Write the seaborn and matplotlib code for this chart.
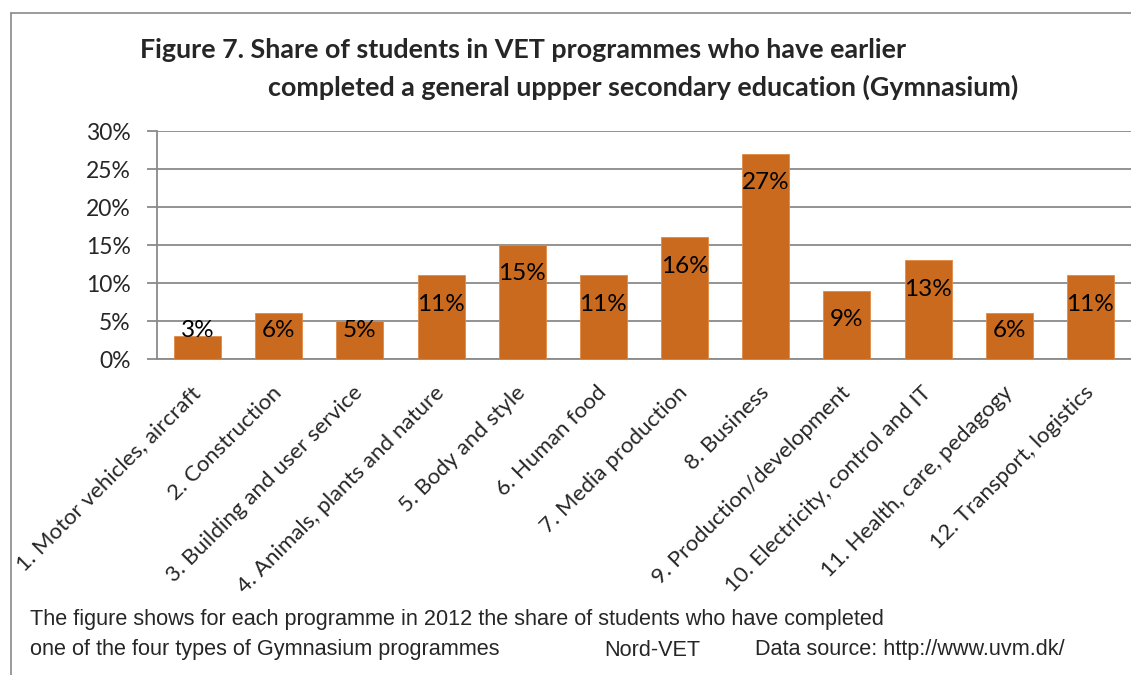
import numpy as np
import pandas as pd
import matplotlib
matplotlib.use("Agg")
import matplotlib.pyplot as plt
import seaborn as sns
from matplotlib.lines import Line2D

# Dados
programmes = [
    "1. Motor vehicles, aircraft",
    "2. Construction",
    "3. Building and user service",
    "4. Animals, plants and nature",
    "5. Body and style",
    "6. Human food",
    "7. Media production",
    "8. Business",
    "9. Production/development",
    "10. Electricity, control and IT",
    "11. Health, care, pedagogy",
    "12. Transport, logistics",
]
share = [3, 6, 5, 11, 15, 11, 16, 27, 9, 13, 6, 11]
y_ticks = [0, 5, 10, 15, 20, 25, 30]

title_1 = "Figure 7. Share of students in VET programmes who have earlier"
title_2 = "completed a general uppper secondary education (Gymnasium)"
note_1 = "The figure shows for each programme in 2012 the share of students who have completed"
note_2 = "one of the four types of Gymnasium programmes"

df = pd.DataFrame({"programme": programmes, "share": share})

sns.set_theme(style="white")
plt.rcParams["font.family"] = ["Lato", "DejaVu Sans"]

bar_col = "#C96A1E"
grid_col = "#8A8A8A"

fig = plt.figure(figsize=(11.31, 6.75), dpi=100)
ax = fig.add_axes([0.1388, 0.4681, 0.8612, 0.3378])

sns.barplot(data=df, x="programme", y="share", order=programmes, color=bar_col,
            width=0.58, saturation=1, edgecolor="#E08A45", linewidth=0.6, ax=ax, zorder=3)

ax.set_xlim(-0.5, len(programmes) - 0.5)
ax.set_ylim(0, 30)
ax.set_yticks(y_ticks)
ax.set_yticklabels([f"{t}%" for t in y_ticks], fontsize=16.5)
ax.yaxis.grid(True, color=grid_col, linewidth=1.3, zorder=0)
ax.set_xlabel("")
ax.set_ylabel("")

# rótulos do eixo x girados
ax.set_xticks(range(len(programmes)))
ax.set_xticklabels(programmes, rotation=45, ha="right", va="center",
                   rotation_mode="anchor", fontsize=16)
ax.tick_params(axis="x", which="major", length=0, pad=22)
ax.set_xticks(np.arange(-0.5, len(programmes), 1.0), minor=True)
ax.tick_params(axis="x", which="minor", length=7, width=1.3, color=grid_col, direction="out")
ax.tick_params(axis="y", length=7, width=1.3, color=grid_col, direction="out", pad=12, left=True)

for s in ["top", "right"]:
    ax.spines[s].set_visible(False)
for s in ["left", "bottom"]:
    ax.spines[s].set_color(grid_col)
    ax.spines[s].set_linewidth(1.3)

# rótulos de valor (estilo "inside end" do Excel)
for i, v in enumerate(share):
    ax.text(i, max(v - 3.8, 3.8), f"{v}%", ha="center", va="center",
            fontsize=17.5, color="black", zorder=4)

# título
fig.text(140 / 1131, 1 - 50 / 675, title_1, ha="left", va="center",
         fontsize=19.35, fontweight="bold")
fig.text(1018 / 1131, 1 - 87 / 675, title_2, ha="right", va="center",
         fontsize=19.35, fontweight="bold")

# nota de rodapé
note_font = ["Liberation Sans", "DejaVu Sans"]
fs = 15.6
fig.text(30 / 1131, 1 - 619 / 675, note_1, ha="left", va="center", fontsize=fs, family=note_font)
fig.text(30 / 1131, 1 - 650 / 675, note_2, ha="left", va="center", fontsize=fs, family=note_font)
fig.text(604 / 1131, 1 - 650 / 675, "Nord-VET", ha="left", va="center", fontsize=fs, family=note_font)
fig.text(755 / 1131, 1 - 650 / 675, "Data source: http://www.uvm.dk/", ha="left", va="center",
         fontsize=fs, family=note_font)

# moldura
x0, y0 = 11 / 1131, 1 - 13 / 675
fig.add_artist(Line2D([x0, x0], [0, y0], transform=fig.transFigure, color=grid_col, lw=1.2))
fig.add_artist(Line2D([x0, 1], [y0, y0], transform=fig.transFigure, color=grid_col, lw=1.2))

fig.savefig("out.png", dpi=100)
